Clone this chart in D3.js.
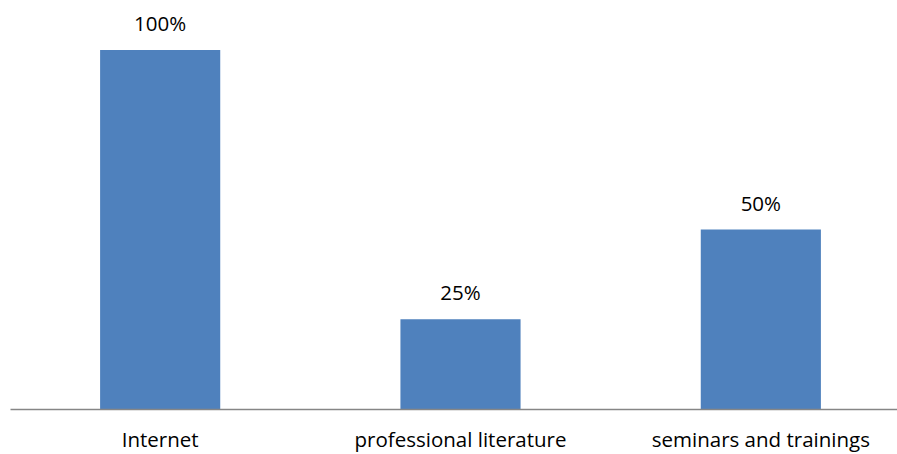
<!DOCTYPE html>
<html>
<head>
<meta charset="utf-8">
<script src="https://cdn.jsdelivr.net/npm/d3@7"></script>
<style>
  html, body { margin: 0; padding: 0; background: #fff; }
  svg { display: block; }
  text { font-family: "Open Sans", Lato, sans-serif; fill: #000; }
</style>
</head>
<body>
<script>
// Sources of information, share of respondents
const categories = ["Internet", "professional literature", "seminars and trainings"];
const values = [1.00, 0.25, 0.50];
const valueLabels = ["100%", "25%", "50%"];

const width = 897, height = 454;
const plotBottom = 409, plotTop = 50;
const fontSize = 20.5;

const svg = d3.select("body").append("svg")
  .attr("width", width)
  .attr("height", height);

const x = d3.scaleBand()
  .domain(categories)
  .range([10, 911])
  .paddingInner(0.6)
  .paddingOuter(0.3);

const y = d3.scaleLinear()
  .domain([0, 1])
  .range([plotBottom, plotTop]);

// bars
svg.selectAll("rect.bar")
  .data(categories)
  .join("rect")
  .attr("class", "bar")
  .attr("x", d => x(d))
  .attr("width", x.bandwidth())
  .attr("y", (d, i) => y(values[i]))
  .attr("height", (d, i) => y(0) - y(values[i]))
  .attr("fill", "#4F81BD");

// value labels above the bars
svg.selectAll("text.value")
  .data(categories)
  .join("text")
  .attr("class", "value")
  .attr("x", d => x(d) + x.bandwidth() / 2)
  .attr("y", (d, i) => y(values[i]) - 19)
  .attr("text-anchor", "middle")
  .attr("font-size", fontSize)
  .text((d, i) => valueLabels[i]);

// category axis
const axis = svg.append("g")
  .attr("transform", `translate(0,${plotBottom})`)
  .call(d3.axisBottom(x).tickSize(0).tickPadding(23));
axis.select(".domain")
  .attr("stroke", "#868686")
  .attr("stroke-width", 1.5);
axis.selectAll(".tick text")
  .attr("font-size", fontSize)
  .attr("font-family", "'Open Sans', Lato, sans-serif")
  .attr("fill", "#000");
</script>
</body>
</html>
